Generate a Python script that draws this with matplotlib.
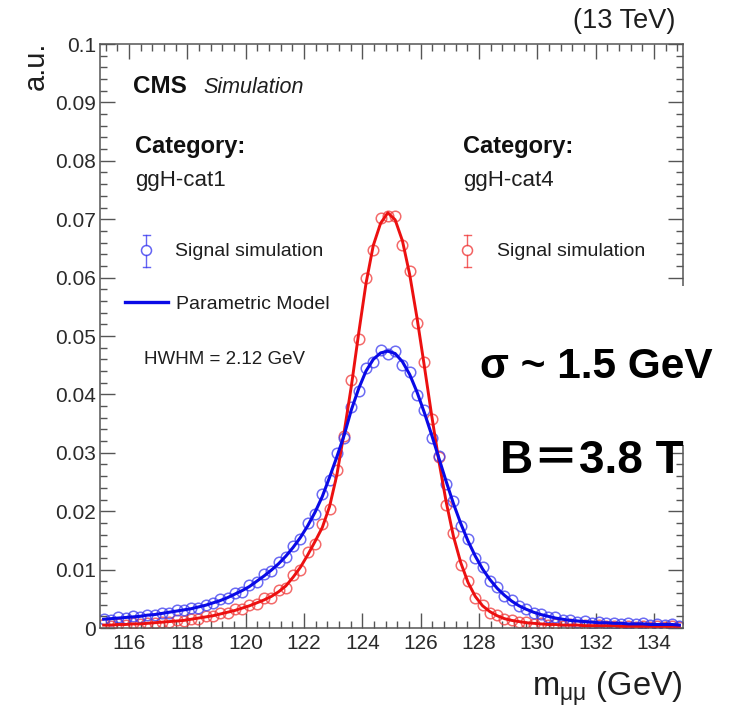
import numpy as np
import matplotlib
matplotlib.use("Agg")
import matplotlib.pyplot as plt
from matplotlib.ticker import MultipleLocator, FuncFormatter
from matplotlib.lines import Line2D
from matplotlib.patches import Rectangle

plt.rcParams['font.family'] = ['Liberation Sans', 'DejaVu Sans']
plt.rcParams['mathtext.fontset'] = 'custom'
plt.rcParams['mathtext.rm'] = 'Liberation Sans'
plt.rcParams['mathtext.it'] = 'Liberation Sans:italic'

# ---- data (bin centres: 0.25 GeV bins from 115 to 135) ----
x_lo, x_hi, bin_w = 115.0, 135.0, 0.25
mass = np.arange(x_lo + bin_w / 2, x_hi, bin_w)

blue_model = [0.0015, 0.0016, 0.0017, 0.0018, 0.0019, 0.0020, 0.0022, 0.0023, 0.0025, 0.0027,
              0.0029, 0.0031, 0.0033, 0.0036, 0.0039, 0.0043, 0.0047, 0.0052, 0.0058, 0.0064,
              0.0071, 0.0080, 0.0089, 0.0099, 0.0110, 0.0123, 0.0138, 0.0155, 0.0175, 0.0198,
              0.0225, 0.0258, 0.0293, 0.0330, 0.0374, 0.0410, 0.0440, 0.0460, 0.0471, 0.0474,
              0.0470, 0.0456, 0.0434, 0.0404, 0.0369, 0.0331, 0.0291, 0.0251, 0.0213, 0.0179,
              0.0149, 0.0123, 0.0101, 0.0083, 0.0068, 0.0056, 0.0046, 0.0038, 0.0032, 0.0027,
              0.0023, 0.0020, 0.0017, 0.0015, 0.0013, 0.0012, 0.0011, 0.0010, 0.0009, 0.0009,
              0.0008, 0.0008, 0.0007, 0.0007, 0.0007, 0.0006, 0.0006, 0.0006, 0.0006, 0.0005]

blue_sim = [0.0016, 0.0014, 0.0018, 0.0017, 0.0020, 0.0019, 0.0023, 0.0022, 0.0026, 0.0026,
            0.0030, 0.0030, 0.0035, 0.0035, 0.0040, 0.0042, 0.0049, 0.0051, 0.0060, 0.0062,
            0.0074, 0.0078, 0.0092, 0.0097, 0.0113, 0.0121, 0.0141, 0.0152, 0.0179, 0.0195,
            0.0230, 0.0253, 0.0299, 0.0326, 0.0378, 0.0405, 0.0446, 0.0455, 0.0476, 0.0470,
            0.0474, 0.0451, 0.0438, 0.0399, 0.0373, 0.0326, 0.0295, 0.0246, 0.0217, 0.0175,
            0.0152, 0.0120, 0.0104, 0.0081, 0.0070, 0.0054, 0.0048, 0.0037, 0.0033, 0.0026,
            0.0024, 0.0019, 0.0018, 0.0014, 0.0014, 0.0011, 0.0012, 0.0009, 0.0010, 0.0008,
            0.0009, 0.0007, 0.0008, 0.0006, 0.0008, 0.0005, 0.0007, 0.0005, 0.0006, 0.0004]

red_model = [0.0005, 0.0005, 0.0006, 0.0006, 0.0007, 0.0007, 0.0008, 0.0009, 0.0010, 0.0011,
             0.0012, 0.0013, 0.0015, 0.0017, 0.0019, 0.0021, 0.0024, 0.0027, 0.0030, 0.0034,
             0.0038, 0.0043, 0.0048, 0.0054, 0.0062, 0.0072, 0.0087, 0.0104, 0.0125, 0.0148,
             0.0172, 0.0208, 0.0262, 0.0335, 0.0415, 0.0505, 0.0590, 0.0655, 0.0693, 0.0711,
             0.0699, 0.0663, 0.0605, 0.0531, 0.0449, 0.0365, 0.0286, 0.0216, 0.0157, 0.0112,
             0.0078, 0.0054, 0.0038, 0.0028, 0.0021, 0.0016, 0.0013, 0.0011, 0.0009, 0.0008,
             0.0007, 0.0006, 0.0006, 0.0005, 0.0005, 0.0005, 0.0004, 0.0004, 0.0004, 0.0004,
             0.0004, 0.0003, 0.0003, 0.0003, 0.0003, 0.0003, 0.0003, 0.0003, 0.0003, 0.0003]

red_sim = [0.0006, 0.0004, 0.0006, 0.0005, 0.0008, 0.0006, 0.0009, 0.0008, 0.0011, 0.0010,
           0.0013, 0.0012, 0.0016, 0.0016, 0.0020, 0.0020, 0.0026, 0.0025, 0.0032, 0.0033,
           0.0040, 0.0041, 0.0051, 0.0052, 0.0065, 0.0069, 0.0091, 0.0100, 0.0130, 0.0144,
           0.0178, 0.0203, 0.0270, 0.0328, 0.0425, 0.0495, 0.0600, 0.0648, 0.0702, 0.0706,
           0.0705, 0.0655, 0.0612, 0.0522, 0.0456, 0.0358, 0.0292, 0.0210, 0.0162, 0.0108,
           0.0081, 0.0051, 0.0040, 0.0026, 0.0022, 0.0015, 0.0014, 0.0010, 0.0010, 0.0007,
           0.0008, 0.0005, 0.0007, 0.0004, 0.0006, 0.0004, 0.0005, 0.0003, 0.0005, 0.0003,
           0.0004, 0.0002, 0.0004, 0.0002, 0.0004, 0.0002, 0.0003, 0.0002, 0.0004, 0.0002]

x_ticks = [116, 118, 120, 122, 124, 126, 128, 130, 132, 134]
y_ticks = [0, 0.01, 0.02, 0.03, 0.04, 0.05, 0.06, 0.07, 0.08, 0.09, 0.1]

# ---- figure ----
W, H = 748, 708
fig = plt.figure(figsize=(W / 100, H / 100), dpi=100)
def fx(p): return p / W
def fy(p): return 1 - p / H

L, R, T, B = 100, 683, 44, 628
ax = fig.add_axes([fx(L), fy(B), fx(R) - fx(L), fy(T) - fy(B)])

BLUE_PT = '#3c3cf0'
RED_PT = '#f03a3a'
BLUE_LN = '#0a0ae6'
RED_LN = '#ec1010'

ax.plot(mass, red_sim, 'o', mfc='none', mec=RED_PT, ms=7.6, mew=1.1, alpha=0.75, zorder=2)
ax.plot(mass, blue_sim, 'o', mfc='none', mec=BLUE_PT, ms=7.6, mew=1.1, alpha=0.75, zorder=2)
ax.plot(mass, red_model, '-', color=RED_LN, lw=2.1, zorder=3)
ax.plot(mass, blue_model, '-', color=BLUE_LN, lw=2.2, zorder=3)

ax.set_xlim(x_lo, x_hi)
ax.set_ylim(0, 0.1)
ax.set_xticks(x_ticks)
ax.set_yticks(y_ticks)
ax.xaxis.set_minor_locator(MultipleLocator(0.4))
ax.yaxis.set_minor_locator(MultipleLocator(0.002))
ax.yaxis.set_major_formatter(FuncFormatter(lambda v, p: '%g' % round(v, 3)))
ax.tick_params(which='both', direction='in', top=True, right=True, colors='#555555',
               labelcolor='#2a2a2a', labelsize=15, width=1.0)
ax.tick_params(which='major', length=10.5)
ax.tick_params(which='minor', length=5.2)
ax.tick_params(axis='x', pad=4)
ax.tick_params(axis='y', pad=3)
for s in ax.spines.values():
    s.set_color('#555555')
    s.set_linewidth(1.1)

TXT = '#1e1e1e'
# axis titles (ROOT style)
fig.text(fx(36), fy(42), 'a.u.', rotation=90, ha='center', va='top', fontsize=21, color=TXT)
fig.text(fx(683), fy(697), r'm$_{\mathregular{μμ}}$ (GeV)', ha='right', va='baseline',
         fontsize=23.5, color=TXT)
fig.text(fx(675), fy(28), '(13 TeV)', ha='right', va='baseline', fontsize=19.5, color=TXT)

# CMS label
fig.text(fx(133), fy(93), 'CMS', ha='left', va='baseline', fontsize=17.5,
         fontweight='bold', color='#111111')
fig.text(fx(203), fy(93), 'Simulation', ha='left', va='baseline', fontsize=15.5,
         fontstyle='italic', color=TXT)

# category texts
fig.text(fx(135), fy(153), 'Category:', ha='left', va='baseline', fontsize=17,
         fontweight='bold', color='#111111')
fig.text(fx(135), fy(186), 'ggH-cat1', ha='left', va='baseline', fontsize=16, color=TXT)
fig.text(fx(463), fy(153), 'Category:', ha='left', va='baseline', fontsize=17,
         fontweight='bold', color='#111111')
fig.text(fx(463), fy(186), 'ggH-cat4', ha='left', va='baseline', fontsize=16, color=TXT)

# legend entries
def legend_marker(xc, yc, color):
    fig.add_artist(Line2D([fx(xc), fx(xc)], [fy(235), fy(245)], color=color, lw=1.0, alpha=0.8))
    fig.add_artist(Line2D([fx(xc), fx(xc)], [fy(255), fy(267)], color=color, lw=1.0, alpha=0.8))
    for yy in (235, 267):
        fig.add_artist(Line2D([fx(xc - 3.5), fx(xc + 3.5)], [fy(yy), fy(yy)], color=color,
                              lw=1.0, alpha=0.8))
    fig.add_artist(Line2D([fx(xc)], [fy(yc)], marker='o', mfc='none', mec=color, ms=7.2,
                          mew=1.1, alpha=0.8))

legend_marker(146, 250, BLUE_PT)
fig.text(fx(175), fy(256), 'Signal simulation', ha='left', va='baseline', fontsize=14, color=TXT)
fig.add_artist(Line2D([fx(125), fx(168)], [fy(302), fy(302)], color=BLUE_LN, lw=2.4))
fig.text(fx(176), fy(309), 'Parametric Model', ha='left', va='baseline', fontsize=14, color=TXT)
fig.text(fx(144), fy(364), 'HWHM = 2.12 GeV', ha='left', va='baseline', fontsize=13.5, color=TXT)

legend_marker(467, 250, RED_PT)
fig.text(fx(497), fy(256), 'Signal simulation', ha='left', va='baseline', fontsize=14, color=TXT)

# white overlay box with annotation
fig.add_artist(Rectangle((fx(472), fy(445)), 1 - fx(472), fy(286) - fy(445),
                         transform=fig.transFigure, facecolor='white', edgecolor='none',
                         zorder=5))
ANN_FONT = ['Liberation Sans', 'Noto Sans CJK JP', 'DejaVu Sans']
fig.text(fx(480), fy(378), 'σ ~ 1.5 GeV', ha='left', va='baseline', fontsize=30.5,
         fontweight='bold', color='black', family=ANN_FONT, zorder=6)
fig.text(fx(500), fy(473), 'B＝3.8 T', ha='left', va='baseline', fontsize=33,
         fontweight='bold', color='black', family=ANN_FONT, zorder=6)

fig.savefig('out.png', dpi=100, facecolor='white')
